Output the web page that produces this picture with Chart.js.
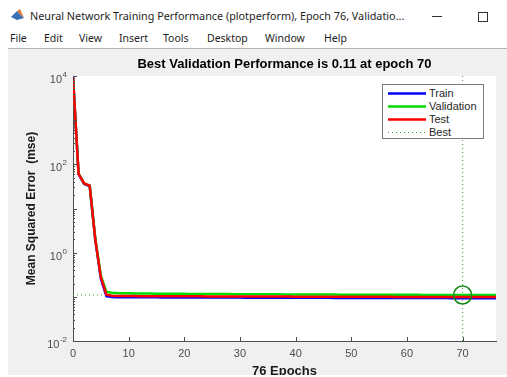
<!DOCTYPE html>
<html>
<head>
    <meta charset="UTF-8">
    <title>Neural Network Training Performance</title>
    <script src="https://cdn.jsdelivr.net/npm/chart.js"></script>
    <style>
        body {
            margin: 0;
            width: 507px;
            height: 377px;
            overflow: hidden;
            position: relative;
            background: #ffffff;
            font-family: "Noto Sans", Arial, sans-serif;
        }

        .winTitle {
            position: absolute;
            left: 30px;
            top: 8px;
            font-size: 10.8px;
            color: #1e1e1e;
            white-space: nowrap;
        }

        .menu span {
            position: absolute;
            top: 31px;
            font-size: 10.5px;
            color: #1e1e1e;
        }

        .sep {
            position: absolute;
            left: 8px;
            top: 48px;
            width: 499px;
            height: 1px;
            background: #b4b4b4;
        }

        #perfChart {
            position: absolute;
            left: 8px;
            top: 49px;
            background: #f0f0f0;
        }

        .legend {
            position: absolute;
            left: 382px;
            top: 84px;
            width: 100px;
            height: 53px;
            background: #ffffff;
            border: 1px solid #7a7a7a;
            font-family: "Liberation Sans", Arial, sans-serif;
            font-size: 11px;
            color: #262626;
        }

        .legend div {
            position: absolute;
            left: 4px;
            height: 13px;
            line-height: 13px;
        }

        .legend svg {
            position: absolute;
            left: 0;
            top: 0;
        }

        .legend span {
            position: absolute;
            left: 42px;
            white-space: nowrap;
        }
    </style>
</head>
<body>

<svg style="position:absolute;left:11px;top:9px" width="13" height="11" viewBox="0 0 13 11">
    <polygon points="0,8 6,2 13,9 6,11" fill="#3b6fb6"/>
    <polygon points="6,2 9,0 13,9" fill="#e8762b"/>
</svg>
<div class="winTitle">Neural Network Training Performance (plotperform), Epoch 76, Validatio...</div>
<div style="position:absolute;left:432px;top:16px;width:10px;height:1px;background:#333"></div>
<div style="position:absolute;left:478px;top:12px;width:8px;height:8px;border:1px solid #333"></div>

<div class="menu">
    <span style="left:10px">File</span>
    <span style="left:44px">Edit</span>
    <span style="left:79px">View</span>
    <span style="left:119px">Insert</span>
    <span style="left:163px">Tools</span>
    <span style="left:207px">Desktop</span>
    <span style="left:265px">Window</span>
    <span style="left:324px">Help</span>
</div>
<div class="sep"></div>

<canvas id="perfChart" width="499" height="326"></canvas>

<div class="legend">
    <div style="top:2px"><svg width="40" height="13"><line x1="1" y1="6.5" x2="39" y2="6.5" stroke="#0000ff" stroke-width="2.5"/></svg><span>Train</span></div>
    <div style="top:15px"><svg width="40" height="13"><line x1="1" y1="6.5" x2="39" y2="6.5" stroke="#00dd00" stroke-width="2.5"/></svg><span>Validation</span></div>
    <div style="top:28px"><svg width="40" height="13"><line x1="1" y1="6.5" x2="39" y2="6.5" stroke="#ff0000" stroke-width="2.5"/></svg><span>Test</span></div>
    <div style="top:41px"><svg width="40" height="13"><line x1="1" y1="6.5" x2="39" y2="6.5" stroke="#3ca03c" stroke-width="1" stroke-dasharray="1 3"/></svg><span>Best</span></div>
</div>

<script>
    // mse per epoch
    const trainPerf = [9500, 60, 36, 32, 2.0, 0.26, 0.104, 0.099, 0.098, 0.098,
        0.098, 0.0978, 0.0976, 0.0975, 0.0974, 0.0973, 0.0972, 0.0971, 0.097, 0.0969,
        0.0968, 0.0967, 0.0966, 0.0966, 0.0965, 0.0964, 0.0963, 0.0962, 0.0962, 0.0961,
        0.096, 0.0959, 0.0958, 0.0958, 0.0957, 0.0956, 0.0955, 0.0955, 0.0954, 0.0953,
        0.0952, 0.0952, 0.0951, 0.095, 0.0949, 0.0949, 0.0948, 0.0947, 0.0947, 0.0946,
        0.0945, 0.0945, 0.0944, 0.0943, 0.0943, 0.0942, 0.0941, 0.0941, 0.094, 0.094,
        0.0939, 0.0938, 0.0938, 0.0937, 0.0937, 0.0936, 0.0935, 0.0935, 0.0934, 0.0934,
        0.0933, 0.0933, 0.0932, 0.0931, 0.0931, 0.093, 0.093];

    const valPerf = [9000, 62, 37, 33, 2.1, 0.3, 0.13, 0.124, 0.122, 0.121,
        0.12, 0.1195, 0.119, 0.1187, 0.1184, 0.1181, 0.1178, 0.1175, 0.1172, 0.117,
        0.1168, 0.1166, 0.1164, 0.1162, 0.116, 0.1158, 0.1156, 0.1154, 0.1152, 0.115,
        0.1148, 0.1146, 0.1145, 0.1143, 0.1141, 0.114, 0.1138, 0.1137, 0.1135, 0.1134,
        0.1132, 0.1131, 0.113, 0.1128, 0.1127, 0.1126, 0.1124, 0.1123, 0.1122, 0.1121,
        0.112, 0.1119, 0.1118, 0.1117, 0.1116, 0.1115, 0.1114, 0.1113, 0.1112, 0.1111,
        0.111, 0.1109, 0.1108, 0.1107, 0.1106, 0.1105, 0.1104, 0.1103, 0.1102, 0.1101,
        0.11, 0.1101, 0.1101, 0.1102, 0.1102, 0.1103, 0.1103];

    const testPerf = [9200, 61, 37, 33, 2.0, 0.28, 0.112, 0.106, 0.105, 0.1045,
        0.104, 0.1038, 0.1036, 0.1035, 0.1034, 0.1033, 0.1032, 0.1031, 0.103, 0.1029,
        0.1028, 0.1027, 0.1026, 0.1025, 0.1024, 0.1023, 0.1022, 0.1021, 0.102, 0.1019,
        0.1018, 0.1017, 0.1016, 0.1016, 0.1015, 0.1014, 0.1013, 0.1012, 0.1011, 0.1011,
        0.101, 0.1009, 0.1008, 0.1008, 0.1007, 0.1006, 0.1005, 0.1005, 0.1004, 0.1003,
        0.1003, 0.1002, 0.1001, 0.1001, 0.1, 0.0999, 0.0999, 0.0998, 0.0997, 0.0997,
        0.0996, 0.0996, 0.0995, 0.0994, 0.0994, 0.0993, 0.0993, 0.0992, 0.0992, 0.0991,
        0.0991, 0.099, 0.099, 0.0989, 0.0989, 0.0988, 0.0988];

    const epochs = trainPerf.map((v, i) => i);

    const bestEpoch = 70;
    const bestPerf = 0.11;
    const numEpochs = 76;

    const xTicks = [0, 10, 20, 30, 40, 50, 60, 70];
    const yTickExps = [-2, 0, 2, 4];

    const axisColor = '#4d4d4d';
    const tickColor = '#4d4d4d';
    const fontFam = '"Liberation Sans", Arial, sans-serif';

    // white axes box on the grey figure
    const plotBackground = {
        id: 'plotBackground',
        beforeDraw(chart) {
            const a = chart.chartArea;
            chart.ctx.save();
            chart.ctx.fillStyle = '#ffffff';
            chart.ctx.fillRect(a.left, a.top, a.right - a.left, a.bottom - a.top);
            chart.ctx.restore();
        }
    };

    // matlab style: ticks point inward, y labels as 10 with a raised exponent
    const matlabAxes = {
        id: 'matlabAxes',
        afterDraw(chart) {
            const ctx = chart.ctx;
            const a = chart.chartArea;
            const x = chart.scales.x;
            const y = chart.scales.y;
            ctx.save();
            ctx.strokeStyle = axisColor;
            ctx.lineWidth = 1;
            ctx.beginPath();
            xTicks.forEach(v => {
                const px = Math.round(x.getPixelForValue(v)) + 0.5;
                ctx.moveTo(px, a.bottom);
                ctx.lineTo(px, a.bottom - 4);
            });
            for (let e = yTickExps[0]; e < yTickExps[yTickExps.length - 1]; e++) {
                for (let m = 1; m < 10; m++) {
                    const py = Math.round(y.getPixelForValue(m * Math.pow(10, e))) + 0.5;
                    ctx.moveTo(a.left, py);
                    ctx.lineTo(a.left + (m === 1 ? 4 : 2), py);
                }
            }
            const topPy = Math.round(y.getPixelForValue(Math.pow(10, yTickExps[yTickExps.length - 1]))) + 0.5;
            ctx.moveTo(a.left, topPy);
            ctx.lineTo(a.left + 4, topPy);
            ctx.stroke();

            ctx.fillStyle = tickColor;
            ctx.textAlign = 'right';
            ctx.textBaseline = 'alphabetic';
            const right = a.left - 6;
            yTickExps.forEach(e => {
                const py = y.getPixelForValue(Math.pow(10, e));
                const sup = String(e);
                ctx.font = '8px ' + fontFam;
                const w = ctx.measureText(sup).width;
                ctx.fillText(sup, right, py + 1);
                ctx.font = '11px ' + fontFam;
                ctx.fillText('10', right - w - 0.5, py + 7);
            });
            ctx.restore();
        }
    };

    const ctx = document.getElementById('perfChart').getContext('2d');
    const perfChart = new Chart(ctx, {
        type: 'line',
        data: {
            labels: epochs,
            datasets: [
                {
                    label: 'Train',
                    data: trainPerf,
                    borderColor: '#0000ff',
                    borderWidth: 2.5,
                    pointRadius: 0,
                    order: 3
                },
                {
                    label: 'Validation',
                    data: valPerf,
                    borderColor: '#00dd00',
                    borderWidth: 2.5,
                    pointRadius: 0,
                    order: 2
                },
                {
                    label: 'Test',
                    data: testPerf,
                    borderColor: '#ff0000',
                    borderWidth: 2.5,
                    pointRadius: 0,
                    order: 1
                },
                {
                    label: 'Best',
                    data: [{x: bestEpoch, y: 0.01}, {x: bestEpoch, y: 10000}],
                    borderColor: '#3ca03c',
                    borderWidth: 1,
                    borderDash: [1, 3],
                    pointRadius: 0,
                    order: 4
                },
                {
                    label: 'BestH',
                    data: [{x: 0, y: bestPerf}, {x: numEpochs, y: bestPerf}],
                    borderColor: '#3ca03c',
                    borderWidth: 1,
                    borderDash: [1, 3],
                    pointRadius: 0,
                    order: 4
                },
                {
                    label: 'BestPoint',
                    data: [{x: bestEpoch, y: bestPerf}],
                    showLine: false,
                    pointRadius: 9,
                    pointStyle: 'circle',
                    pointBackgroundColor: 'rgba(0,0,0,0)',
                    pointBorderColor: '#118811',
                    pointBorderWidth: 1.5,
                    order: 0
                }
            ]
        },
        options: {
            responsive: false,
            animation: false,
            devicePixelRatio: 1,
            elements: {line: {tension: 0}},
            layout: {padding: {left: 0, right: 11, top: 0, bottom: 0}},
            plugins: {
                legend: {display: false},
                tooltip: {enabled: false},
                title: {
                    display: true,
                    fullSize: false,
                    text: 'Best Validation Performance is 0.11 at epoch 70',
                    color: '#000000',
                    font: {family: fontFam, size: 13, weight: 'bold', lineHeight: 1.2},
                    padding: {top: 8, bottom: 3.4}
                }
            },
            scales: {
                x: {
                    type: 'linear',
                    min: 0,
                    max: numEpochs,
                    afterBuildTicks: scale => {
                        scale.ticks = xTicks.map(v => ({value: v}));
                    },
                    afterFit: scale => {
                        scale.height = 34;
                    },
                    grid: {display: false, drawTicks: false},
                    border: {display: true, color: axisColor, width: 1},
                    ticks: {
                        autoSkip: false,
                        maxRotation: 0,
                        padding: 6,
                        color: tickColor,
                        font: {family: fontFam, size: 11}
                    },
                    title: {
                        display: true,
                        text: '76 Epochs',
                        color: '#1a1a1a',
                        font: {family: fontFam, size: 13, weight: 'bold', lineHeight: 0.6},
                        padding: {top: 0, bottom: 0}
                    }
                },
                y: {
                    type: 'logarithmic',
                    min: 0.01,
                    max: 10000,
                    afterFit: scale => {
                        scale.width = 65;
                    },
                    grid: {display: false, drawTicks: false},
                    border: {display: true, color: axisColor, width: 1},
                    ticks: {display: false},
                    title: {
                        display: true,
                        text: 'Mean Squared Error  (mse)',
                        color: '#1a1a1a',
                        font: {family: fontFam, size: 12, weight: 'bold', lineHeight: 1.2},
                        padding: {top: 16, bottom: 0}
                    }
                }
            }
        },
        plugins: [plotBackground, matlabAxes]
    });
</script>
</body>
</html>
